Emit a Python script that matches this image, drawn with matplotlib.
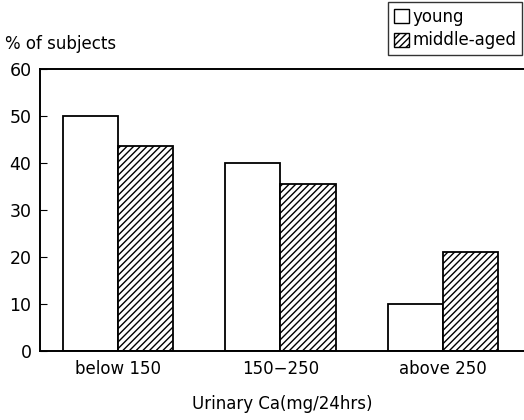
import numpy as np
import matplotlib
matplotlib.use('Agg')
import matplotlib.pyplot as plt
from matplotlib.patches import Patch

plt.rcParams['font.family'] = ['DejaVu Sans']
plt.rcParams['hatch.linewidth'] = 1.0

categories = ['below 150', '150\u2212250', 'above 250']
young = [50, 40, 10]
middle_aged = [43.5, 35.5, 21]

fig = plt.figure(figsize=(5.24, 4.20), dpi=100)
ax = fig.add_axes([0.076, 0.165, 0.924, 0.671])

x = np.arange(len(categories))
w = 0.34
ax.bar(x - w/2, young, w, color='white', edgecolor='black', lw=1.3)
ax.bar(x + w/2, middle_aged, w, color='white', edgecolor='black', lw=1.3, hatch='/////')

ax.set_xlim(-0.48, 2.5)
ax.set_ylim(0, 60)
ax.set_yticks(range(0, 61, 10))
ax.set_xticks(x)
ax.set_xticklabels(categories, fontsize=12)
ax.tick_params(axis='y', direction='in', length=5, labelsize=12.5, pad=6)
ax.tick_params(axis='x', length=0, pad=7)
for s in ['left', 'bottom', 'top']:
    ax.spines[s].set_linewidth(1.4)
ax.spines['right'].set_visible(False)

ax.set_xlabel('Urinary Ca(mg/24hrs)', fontsize=12, labelpad=12)
fig.text(0.01, 0.895, '% of subjects', fontsize=12, ha='left', va='center')

handles = [Patch(facecolor='white', edgecolor='black', label='young'),
           Patch(facecolor='white', edgecolor='black', hatch='/////', label='middle-aged')]
leg = fig.legend(handles=handles, loc='upper right', bbox_to_anchor=(1.0, 1.0),
                 fontsize=12, frameon=True, fancybox=False, handlelength=0.9,
                 handleheight=0.9, handletextpad=0.2, borderpad=0.35,
                 labelspacing=0.35, borderaxespad=0.1)
leg.get_frame().set_edgecolor('black')
leg.get_frame().set_linewidth(1.0)

fig.savefig('out.png', dpi=100)
